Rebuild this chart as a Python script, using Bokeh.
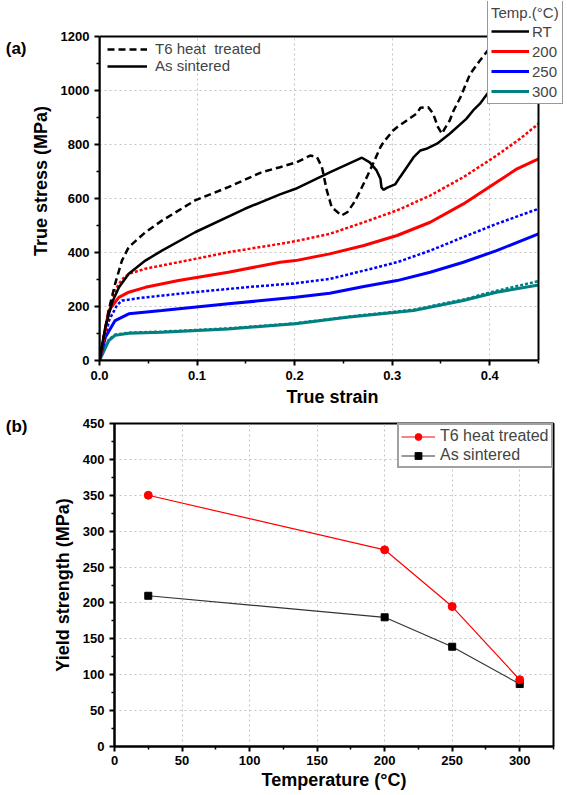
from bokeh.plotting import figure
from bokeh.models import (FixedTicker, NumeralTickFormatter, Legend, LegendItem,
                          LinearAxis, BoxAnnotation)
from bokeh.embed import file_html
from bokeh.resources import INLINE

FONT = "Liberation Sans"

# ---------------- (a) true stress - true strain ----------------
rt_t6_strain = [0.000, 0.006, 0.011, 0.016, 0.023, 0.030, 0.047, 0.064, 0.098, 0.132, 0.166, 0.185,
                0.202, 0.216, 0.223, 0.228, 0.233, 0.238, 0.248, 0.254, 0.260, 0.264, 0.274, 0.281,
                0.288, 0.291, 0.301, 0.305, 0.315, 0.325, 0.329, 0.337, 0.342, 0.347, 0.351, 0.354,
                0.359, 0.363, 0.370, 0.380, 0.390, 0.398, 0.410]
rt_t6_stress = [0, 123, 210, 284, 370, 420, 475, 518, 593, 642, 697, 716,
                734, 759, 753, 716, 630, 568, 537, 549, 580, 605, 679, 734,
                790, 808, 852, 864, 889, 914, 936, 938, 914, 864, 840, 860,
                889, 926, 975, 1062, 1111, 1148, 1200]

rt_as_strain = [0.000, 0.006, 0.013, 0.020, 0.030, 0.047, 0.064, 0.098, 0.149, 0.185, 0.201, 0.236,
                0.269, 0.277, 0.284, 0.288, 0.289, 0.291, 0.295, 0.303, 0.308, 0.315, 0.322, 0.329,
                0.335, 0.346, 0.359, 0.376, 0.383, 0.390, 0.400, 0.420, 0.440]
rt_as_stress = [0, 123, 216, 271, 321, 370, 407, 475, 562, 615, 636, 697,
                751, 734, 704, 673, 642, 632, 640, 652, 679, 716, 753, 778,
                784, 803, 840, 895, 926, 951, 1000, 1100, 1200]

t200_t6_strain = [0.000, 0.008, 0.016, 0.023, 0.030, 0.047, 0.081, 0.132, 0.185, 0.201, 0.236, 0.271,
                  0.305, 0.339, 0.373, 0.407, 0.431, 0.450]
t200_t6_stress = [0, 150, 260, 300, 321, 340, 364, 401, 432, 442, 469, 512,
                  556, 611, 679, 759, 821, 877]

t200_as_strain = [0.000, 0.0095, 0.0198, 0.030, 0.047, 0.081, 0.132, 0.185, 0.201, 0.236, 0.271, 0.305,
                  0.339, 0.373, 0.407, 0.428, 0.450]
t200_as_stress = [0, 185, 234, 253, 271, 296, 327, 364, 370, 395, 426, 463,
                  512, 580, 660, 710, 747]

t250_t6_strain = [0.000, 0.010, 0.018, 0.023, 0.047, 0.098, 0.149, 0.201, 0.236, 0.271, 0.305, 0.339,
                  0.373, 0.407, 0.450]
t250_t6_stress = [0, 150, 205, 222, 234, 253, 271, 286, 302, 333, 364, 407,
                  457, 506, 562]

t250_as_strain = [0.000, 0.006, 0.016, 0.030, 0.064, 0.132, 0.201, 0.236, 0.271, 0.305, 0.339, 0.373,
                  0.407, 0.450]
t250_as_stress = [0, 86, 148, 173, 185, 210, 234, 249, 274, 296, 327, 364,
                  407, 469]

t300_t6_strain = [0.000, 0.0095, 0.016, 0.030, 0.064, 0.132, 0.201, 0.254, 0.322, 0.373, 0.407, 0.450]
t300_t6_stress = [0, 78, 96, 103, 107, 119, 138, 162, 188, 226, 258, 294]

t300_as_strain = [0.000, 0.0095, 0.016, 0.030, 0.064, 0.132, 0.201, 0.254, 0.322, 0.373, 0.407, 0.450]
t300_as_stress = [0, 74, 93, 101, 105, 117, 136, 160, 185, 222, 253, 280]

strain_ticks = [0.0, 0.1, 0.2, 0.3, 0.4]
strain_minor = [0.05, 0.15, 0.25, 0.35, 0.45]
stress_ticks = [0, 200, 400, 600, 800, 1000, 1200]
stress_minor = [100, 300, 500, 700, 900, 1100]
STRAIN_MAX = 0.45
STRESS_MAX = 1200
temp_legend_labels = ["RT", "200", "250", "300"]

# ---------------- (b) yield strength vs temperature ----------------
temperature = [25, 200, 250, 300]
ys_t6 = [350, 274, 195, 93]
ys_as = [210, 180, 139, 87]
temp_ticks = [0, 50, 100, 150, 200, 250, 300]
temp_minor = [25, 75, 125, 175, 225, 275, 325]
ys_ticks = [0, 50, 100, 150, 200, 250, 300, 350, 400, 450]
ys_minor = [25, 75, 125, 175, 225, 275, 325, 375, 425]

RED = "#FF0000"
BLUE = "#0000FF"
TEAL = "#008080"


def style(p, xt, xminor, yt, yminor, xfmt):
    for ax in (p.xaxis[0], p.yaxis[0]):
        ax.axis_line_width = 2
        ax.major_tick_line_width = 2
        ax.minor_tick_line_width = 1.5
        ax.major_tick_out = 5
        ax.major_tick_in = 0
        ax.minor_tick_out = 3
        ax.minor_tick_in = 0
        ax.major_label_text_font = FONT
        ax.major_label_text_font_style = "bold"
        ax.major_label_text_font_size = "13px"
        ax.major_label_text_color = "black"
        ax.axis_label_text_font = FONT
        ax.axis_label_text_font_style = "bold"
        ax.axis_label_text_font_size = "18px"
        ax.axis_label_text_color = "black"
        ax.major_label_standoff = 5
    p.yaxis[0].axis_label_standoff = 7
    p.xaxis[0].ticker = FixedTicker(ticks=xt, minor_ticks=xminor)
    p.yaxis[0].ticker = FixedTicker(ticks=yt, minor_ticks=yminor)
    p.xaxis[0].formatter = xfmt
    for g in (p.xgrid[0], p.ygrid[0]):
        g.grid_line_color = "#c4c4c4"
        g.grid_line_dash = "2 3"
        g.grid_line_width = 1
    p.background_fill_color = "white"
    p.border_fill_color = "white"


def panel_letter(p, text, y, standoff):
    ax = LinearAxis(ticker=FixedTicker(ticks=[y], minor_ticks=[]),
                    major_label_overrides={y: text},
                    axis_line_alpha=0, major_tick_line_alpha=0, minor_tick_line_alpha=0,
                    major_tick_out=0, major_tick_in=0, minor_tick_out=0, minor_tick_in=0,
                    major_label_standoff=standoff,
                    major_label_text_font=FONT, major_label_text_font_style="bold",
                    major_label_text_font_size="17px", major_label_text_color="black")
    p.add_layout(ax, "left")


# frame of (a) is extended to the right/top so the temperature legend can sit
# across the plot border, as in the original; the visible box is drawn on 0..max.
FRAME_W_A, PLOT_W_A = 466, 439
FRAME_H_A, PLOT_H_A = 359, 324
pa = figure(width=567, height=410,
            x_range=(0, STRAIN_MAX * FRAME_W_A / PLOT_W_A),
            y_range=(0, STRESS_MAX * FRAME_H_A / PLOT_H_A),
            output_backend="svg", toolbar_location=None, title=None,
            min_border_left=99, min_border_right=2, min_border_top=1, min_border_bottom=50)
style(pa, strain_ticks, strain_minor, stress_ticks, stress_minor, NumeralTickFormatter(format="0.0"))
pa.outline_line_alpha = 0
pa.xaxis[0].bounds = (0, STRAIN_MAX)
pa.yaxis[0].bounds = (0, STRESS_MAX)
pa.xaxis[0].axis_label = "True strain"
pa.yaxis[0].axis_label = "True stress (MPa)"
pa.xaxis[0].axis_label_standoff = 4

DASH_BLACK = "7 4"
DOT = "3 2"
W = 2.5

r300t6 = pa.line(t300_t6_strain, t300_t6_stress, line_color=TEAL, line_width=W, line_dash=DOT)
r300 = pa.line(t300_as_strain, t300_as_stress, line_color=TEAL, line_width=W + 0.5)
r250t6 = pa.line(t250_t6_strain, t250_t6_stress, line_color=BLUE, line_width=W, line_dash=DOT)
r250 = pa.line(t250_as_strain, t250_as_stress, line_color=BLUE, line_width=W + 0.5)
r200t6 = pa.line(t200_t6_strain, t200_t6_stress, line_color=RED, line_width=W, line_dash=DOT)
r200 = pa.line(t200_as_strain, t200_as_stress, line_color=RED, line_width=W + 0.5)
rrt = pa.line(rt_as_strain, rt_as_stress, line_color="black", line_width=W)
rrtt6 = pa.line(rt_t6_strain, rt_t6_stress, line_color="black", line_width=W, line_dash=DASH_BLACK)

# blank out everything beyond the plotted box, then draw the box itself
pa.add_layout(BoxAnnotation(left=STRAIN_MAX, fill_color="white", fill_alpha=1, line_alpha=0))
pa.add_layout(BoxAnnotation(bottom=STRESS_MAX, fill_color="white", fill_alpha=1, line_alpha=0))
pa.add_layout(BoxAnnotation(left=0, right=STRAIN_MAX, bottom=0, top=STRESS_MAX,
                            fill_alpha=0, line_color="black", line_alpha=1, line_width=2))

leg_a1 = Legend(items=[LegendItem(label="T6 heat  treated", renderers=[rrtt6]),
                       LegendItem(label="As sintered", renderers=[rrt])],
                location=(3, 281), padding=5, spacing=0, margin=0,
                glyph_width=40, glyph_height=16, label_height=16, label_standoff=8,
                label_text_font=FONT, label_text_font_size="15px",
                border_line_alpha=0, background_fill_alpha=0)
pa.add_layout(leg_a1)

leg_a2 = Legend(items=[LegendItem(label=lab, renderers=[r])
                       for lab, r in zip(temp_legend_labels, [rrt, r200, r250, r300])],
                title="Temp.(°C)", title_text_font=FONT, title_text_font_size="15px",
                title_text_font_style="normal", title_standoff=1,
                location=(388, 256), padding=3, spacing=2, margin=0,
                glyph_width=38, glyph_height=18, label_height=18, label_standoff=3,
                label_text_font=FONT, label_text_font_size="15px",
                border_line_color="#333333", border_line_width=1.5,
                background_fill_color="white", background_fill_alpha=1)
pa.add_layout(leg_a2)

panel_letter(pa, "(a)", 1154, 1)

# ---------------- (b) ----------------
pb = figure(width=567, height=385, x_range=(0, 325), y_range=(0, 450),
            output_backend="svg", toolbar_location=None, title=None,
            min_border_left=114, min_border_right=14, min_border_top=13, min_border_bottom=49)
style(pb, temp_ticks, temp_minor, ys_ticks, ys_minor, NumeralTickFormatter(format="0"))
pb.outline_line_color = "black"
pb.outline_line_width = 2
pb.xaxis[0].axis_label = "Temperature (°C)"
pb.yaxis[0].axis_label = "Yield strength (MPa)"
pb.xaxis[0].axis_label_standoff = 2
pb.xaxis[0].major_label_standoff = 4

lb_t6 = pb.line(temperature, ys_t6, line_color=RED, line_width=1.2)
lb_as = pb.line(temperature, ys_as, line_color="#333333", line_width=1.2)
mb_as = pb.scatter(temperature, ys_as, marker="square", size=7, fill_color="black", line_color="black")
mb_t6 = pb.scatter(temperature, ys_t6, marker="circle", size=8, fill_color=RED, line_color=RED)

leg_b = Legend(items=[LegendItem(label="T6 heat treated", renderers=[lb_t6, mb_t6]),
                      LegendItem(label="As sintered", renderers=[lb_as, mb_as])],
               location=(283, 278), padding=2, spacing=1, margin=0,
               glyph_width=34, glyph_height=17, label_height=17, label_standoff=5,
               label_text_font=FONT, label_text_font_size="16px",
               border_line_color="#444444", border_line_width=2,
               background_fill_color="white", background_fill_alpha=1)
pb.add_layout(leg_b)

panel_letter(pb, "(b)", 446, 22)

open("out.html", "w").write(file_html([pa, pb], INLINE))
